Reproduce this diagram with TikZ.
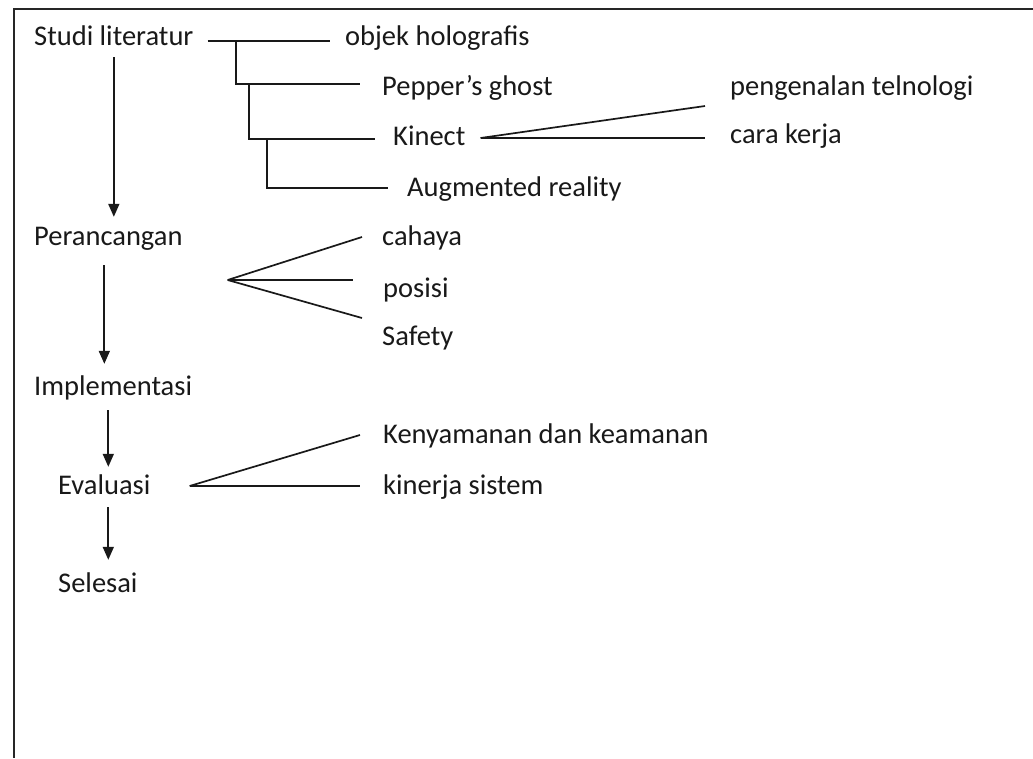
\documentclass[tikz,border=0pt]{standalone}
\usepackage{fontspec}
\setmainfont{Carlito}
\usetikzlibrary{arrows.meta,calc}
\begin{document}
\begin{tikzpicture}[x=1pt,y=-1pt,
  lbl/.style={anchor=west,inner sep=0pt,text height=20pt,text depth=6pt,text=black!90,font=\fontsize{28.5}{32}\selectfont},
  ln/.style={line width=1.7pt,black!90},
  arr/.style={ln,-{Triangle[length=13pt,width=11pt]}}]
\useasboundingbox (0,0) rectangle (1033,758);
\fill[white] (0,0) rectangle (1033,758);
% frame (top and left edges)
\draw[line width=1.8pt,black!85] (1033,9) -- (14,9) -- (14,758);
% nodes
\node[lbl] (studi) at (34,38) {Studi literatur};
\node[lbl] (objek) at (345,38) {objek holografis};
\node[lbl] (pepper) at (382,88) {Pepper’s ghost};
\node[lbl] (kinect) at (393,138) {Kinect};
\node[lbl] (augm) at (407,189) {Augmented reality};
\node[lbl] (peng) at (730,88) {pengenalan telnologi};
\node[lbl] (cara) at (730,136) {cara kerja};
\node[lbl] (peran) at (34,238) {Perancangan};
\node[lbl] (cahaya) at (382,238) {cahaya};
\node[lbl] (posisi) at (383,290) {posisi};
\node[lbl] (safety) at (382,338) {Safety};
\node[lbl] (impl) at (34,388) {Implementasi};
\node[lbl] (eval) at (58,487) {Evaluasi};
\node[lbl] (kenya) at (383,436) {Kenyamanan dan keamanan};
\node[lbl] (kinerja) at (383,487) {kinerja sistem};
\node[lbl] (selesai) at (58,585) {Selesai};
% tree of Studi literatur
\draw[ln] ($(studi.east)+(14,3)$) -- ($(objek.west)+(-15,3)$);
\coordinate (j1) at ($(studi.east)+(42,3)$);
\draw[ln] (j1) |- ($(pepper.west)+(-22,-4)$);
\coordinate (j2) at ($(j1)+(13,43)$);
\draw[ln] (j2) |- ($(kinect.west)+(-18,1)$);
\coordinate (j3) at ($(j2)+(18,55)$);
\draw[ln] (j3) |- ($(augm.west)+(-19,-1)$);
% Kinect fan
\coordinate (kf) at ($(kinect.east)+(15,0)$);
\draw[ln] (kf) -- ($(peng.west)+(-25,18)$);
\draw[ln] (kf) -- ($(cara.west)+(-25,2)$);
% Perancangan fan
\coordinate (pf) at ($(peran.east)+(45,42)$);
\draw[ln] (pf) -- ($(cahaya.west)+(-20,-1)$);
\draw[ln] (pf) -- ($(posisi.west)+(-30,-10)$);
\draw[ln] (pf) -- ($(safety.west)+(-20,-20)$);
% Evaluasi fan
\coordinate (ef) at ($(eval.east)+(39,-1)$);
\draw[ln] (ef) -- ($(kenya.west)+(-23,-1)$);
\draw[ln] (ef) -- ($(kinerja.west)+(-23,-1)$);
% main flow arrows
\draw[arr] ([yshift=-6pt]studi.south) -- ([yshift=8pt]studi.south |- peran.north);
\draw[arr] ([xshift=-4pt,yshift=-14pt]peran.south) -- ([xshift=-4pt,yshift=11pt]peran.south |- impl.north);
\draw[arr] ([xshift=4pt,yshift=-9pt]eval.north |- impl.south) -- ([xshift=4pt,yshift=7pt]eval.north);
\draw[arr] ([xshift=4pt,yshift=-7pt]eval.south) -- ([xshift=4pt,yshift=12pt]eval.south |- selesai.north);
\end{tikzpicture}
\end{document}
